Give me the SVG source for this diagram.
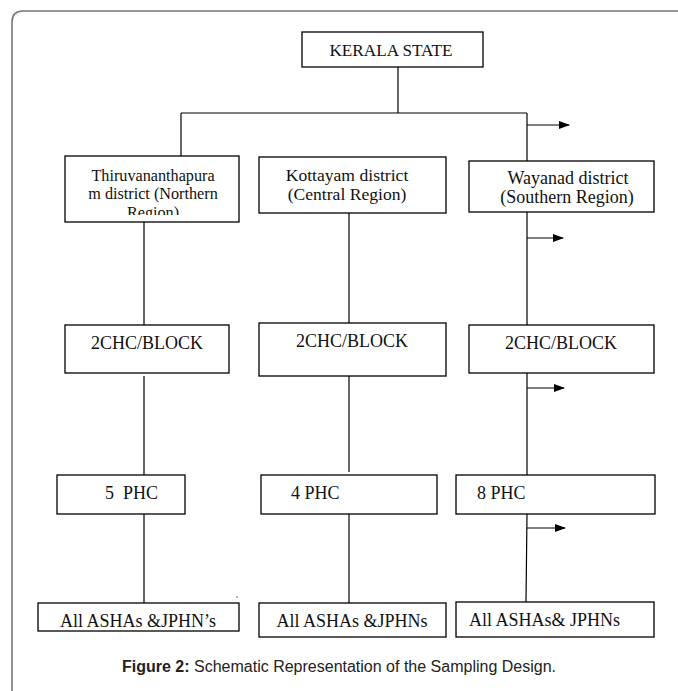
<svg xmlns="http://www.w3.org/2000/svg" width="678" height="691" viewBox="0 0 678 691">
<style>
.box{fill:#fff;stroke:#000;stroke-width:1.3}
.t{font-family:"Liberation Serif","Times New Roman",serif;font-size:18px;fill:#111}
.c{text-anchor:middle}
.ln{stroke:#000;stroke-width:1.2;fill:none}
.ar{stroke:#000;stroke-width:1.2;fill:none;marker-end:url(#ah)}
.cap{font-family:"Liberation Sans",Arial,sans-serif;font-size:16px;fill:#222}
</style>
<defs>
<marker id="ah" markerWidth="11" markerHeight="8" refX="10" refY="4" orient="auto" markerUnits="userSpaceOnUse">
<path d="M0,0 L11,4 L0,8 Z" fill="#000"/>
</marker>
<clipPath id="clipThiru"><rect x="65" y="156" width="174" height="59"/></clipPath>
</defs>
<rect width="678" height="691" fill="#fff"/>
<path d="M12,691 V22 Q12,11 23,11 H678" fill="none" stroke="#777" stroke-width="1.6"/>
<g id="connectors">
<line class="ln" x1="398" y1="67" x2="398" y2="113"/>
<line class="ln" x1="181" y1="113" x2="527" y2="113"/>
<line class="ln" x1="181" y1="113" x2="181" y2="156"/>
<line class="ln" x1="527" y1="113" x2="527" y2="161"/>
<line class="ar" x1="527" y1="125" x2="569" y2="125"/>
<line class="ln" x1="144" y1="222" x2="144" y2="325"/>
<line class="ln" x1="349" y1="213" x2="349" y2="323"/>
<line class="ln" x1="527" y1="212" x2="527" y2="325"/>
<line class="ar" x1="527" y1="238" x2="563" y2="238"/>
<line class="ln" x1="144" y1="376" x2="144" y2="475"/>
<line class="ln" x1="349" y1="376" x2="349" y2="472"/>
<line class="ln" x1="527" y1="373" x2="527" y2="475"/>
<line class="ar" x1="527" y1="388" x2="564" y2="388"/>
<line class="ln" x1="144" y1="514" x2="144" y2="603"/>
<line class="ln" x1="349" y1="514" x2="349" y2="603"/>
<line class="ln" x1="527" y1="514" x2="526" y2="602"/>
<line class="ar" x1="527" y1="528" x2="565" y2="528"/>
</g>
<g id="kerala">
<rect class="box" x="302" y="32" width="181" height="35"/>
<text class="t c" x="391" y="56" style="font-size:17.2px">KERALA STATE</text>
</g>
<g id="thiru">
<rect class="box" x="65" y="156" width="174" height="66"/>
<g clip-path="url(#clipThiru)">
<text class="t c" x="153" y="181" style="font-size:16.2px">Thiruvananthapura</text>
<text class="t c" x="153" y="199" style="font-size:16.2px">m district (Northern</text>
<text class="t c" x="153" y="218" style="font-size:16.2px">Region)</text>
</g>
</g>
<g id="kottayam">
<rect class="box" x="259" y="157" width="187" height="56"/>
<text class="t c" x="347" y="180.5" style="font-size:17.6px">Kottayam district</text>
<text class="t c" x="347" y="199.5" style="font-size:17.6px">(Central Region)</text>
</g>
<g id="wayanad">
<rect class="box" x="469" y="161" width="185" height="51"/>
<text class="t c" x="568" y="184">Wayanad district</text>
<text class="t c" x="567" y="203">(Southern Region)</text>
</g>
<g id="chc1">
<rect class="box" x="65" y="325" width="164" height="48"/>
<text class="t c" x="147" y="349">2CHC/BLOCK</text>
</g>
<g id="chc2">
<rect class="box" x="259" y="323" width="187" height="53"/>
<text class="t c" x="352" y="347">2CHC/BLOCK</text>
</g>
<g id="chc3">
<rect class="box" x="469" y="325" width="185" height="48"/>
<text class="t c" x="561" y="349">2CHC/BLOCK</text>
</g>
<g id="phc1">
<rect class="box" x="57" y="475" width="128" height="39"/>
<text class="t" x="105" y="499" xml:space="preserve">5  PHC</text>
</g>
<g id="phc2">
<rect class="box" x="261" y="475" width="176" height="39"/>
<text class="t" x="291" y="499">4 PHC</text>
</g>
<g id="phc3">
<rect class="box" x="456" y="475" width="199" height="39"/>
<text class="t" x="477" y="499">8 PHC</text>
</g>
<g id="asha1">
<rect class="box" x="38" y="603" width="201" height="28"/>
<text class="t c" x="138" y="627">All ASHAs &amp;JPHN’s</text>
</g>
<g id="asha2">
<rect class="box" x="259" y="603" width="187" height="34"/>
<text class="t c" x="352" y="627">All ASHAs &amp;JPHNs</text>
</g>
<g id="asha3">
<rect class="box" x="456" y="602" width="198" height="35"/>
<text class="t" x="469" y="626">All ASHAs&amp; JPHNs</text>
</g>
<rect x="236.5" y="596.5" width="1.2" height="1.2" fill="#333"/>
<text class="cap" x="339" y="672" text-anchor="middle"><tspan font-weight="bold">Figure 2:</tspan> Schematic Representation of the Sampling Design.</text>
</svg>
